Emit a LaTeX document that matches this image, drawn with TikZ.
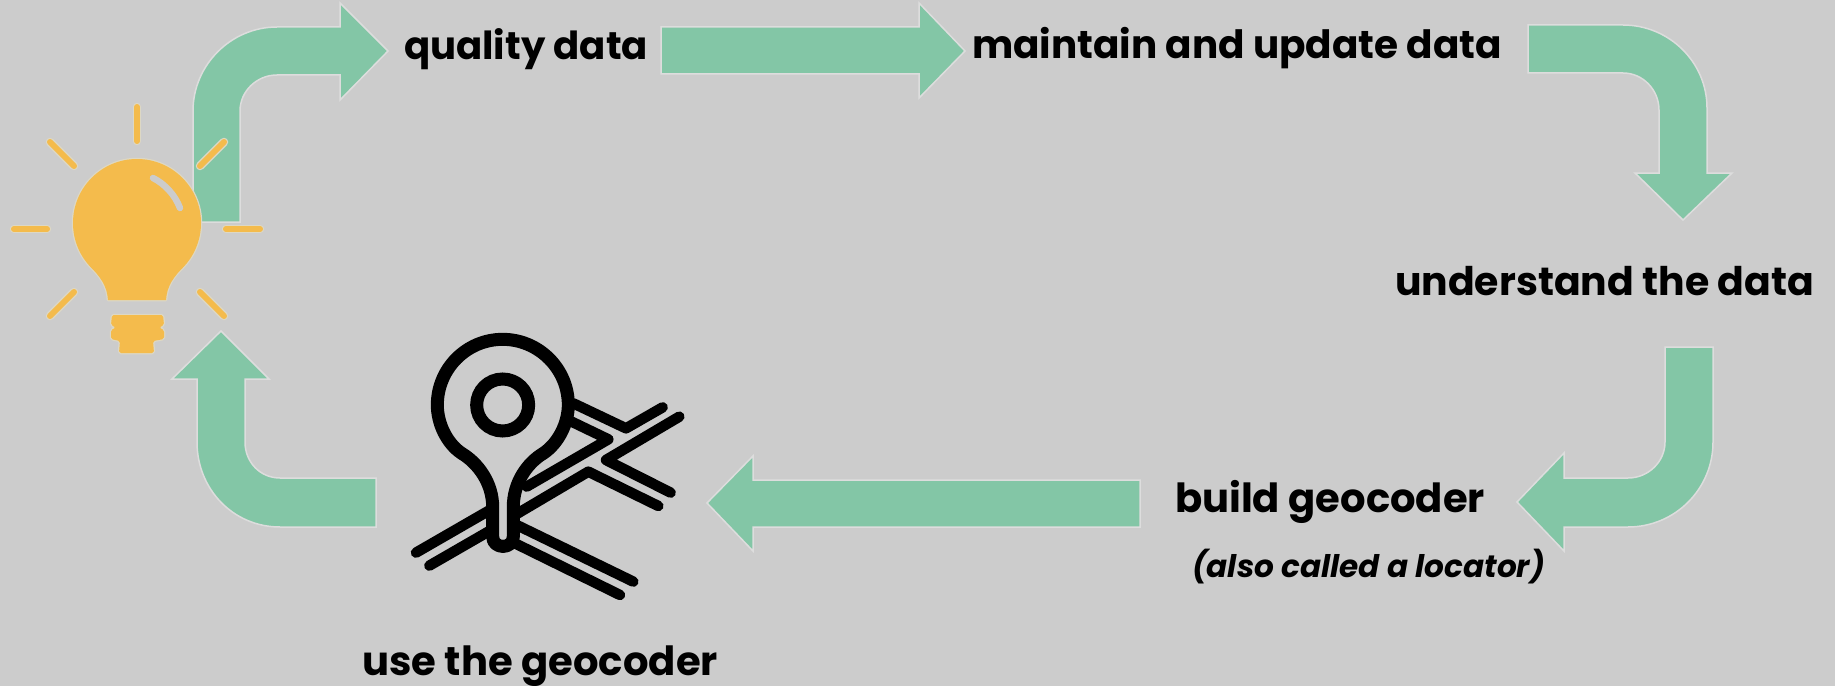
\documentclass[tikz,border=0pt]{standalone}
\usepackage{fontspec}
\usepackage{graphicx}
\setmainfont{Poppins}
\definecolor{bgc}{HTML}{CCCCCC}
\definecolor{greenc}{HTML}{83C6A6}
\definecolor{bulbc}{HTML}{F4BB4C}
\definecolor{haloc}{HTML}{DDD8C4}
\definecolor{edgec}{HTML}{DDDDDD}
\tikzset{
  bigarrow/.style={fill=greenc,draw=edgec,line width=0.03cm,line join=miter},
  lbl/.style={anchor=base west,inner sep=0pt,outer sep=0pt,text=black,font=\bfseries},
  road/.style={draw=black,line width=0.21cm,line cap=round,line join=round},
  pinline/.style={draw=black,line width=0.26cm,line join=round},
  rayhalo/.style={draw=haloc,line width=0.17cm,line cap=round},
  ray/.style={draw=bulbc,line width=0.12cm,line cap=round},
}
\newcommand{\fitw}[2]{\resizebox{\dimexpr0.02cm*#1\relax}{!}{#2}}
\newcommand{\screwbase}{(112,315) -- (163,315) -- (164,325) -- (159,327.5) -- (164,330) -- (164,339) -- (153,341) -- (154,353) -- (119,353) -- (120,341) -- (111,339) -- (111,330) -- (116,327.5) -- (111,325) -- cycle}
\begin{document}
\begin{tikzpicture}[x=0.02cm,y=-0.02cm]
\useasboundingbox (0,0) rectangle (1835,686);
\fill[bgc] (0,0) rectangle (1835,686);

% arrow 1: bulb to quality data
\path[bigarrow] (193,222) -- (193,111) .. controls (193,65) and (231,27) .. (277,27)
  -- (340,27) -- (340,3) -- (388,51) -- (340,100) -- (340,75) -- (277,75)
  .. controls (257,75) and (240,91) .. (240,111) -- (240,222) -- cycle;
% arrow 2
\path[bigarrow] (661,27) -- (919,27) -- (919,3) -- (965,51) -- (919,98) -- (919,74) -- (661,74) -- cycle;
% arrow 3
\path[bigarrow] (1528,25) -- (1623,25) .. controls (1669,25) and (1707,62) .. (1707,108)
  -- (1707,173) -- (1732,173) -- (1683,220) -- (1635,173) -- (1659,173) -- (1659,110)
  .. controls (1659,90) and (1643,73) .. (1623,73) -- (1528,73) -- cycle;
% arrow 4
\path[bigarrow] (1665,347) -- (1713,347) -- (1713,442) .. controls (1713,489) and (1675,527) .. (1628,527)
  -- (1564,527) -- (1564,551) -- (1517,502) -- (1564,453) -- (1564,478) -- (1628,478)
  .. controls (1648,478) and (1665,462) .. (1665,442) -- cycle;
% arrow 5
\path[bigarrow] (1140,480) -- (753,480) -- (753,456) -- (707,503) -- (753,551) -- (753,527) -- (1140,527) -- cycle;
% arrow 6
\path[bigarrow] (376,478) -- (280,478) .. controls (260,478) and (245,462) .. (245,442)
  -- (245,379) -- (269,379) -- (221,331) -- (172,379) -- (197,379) -- (197,442)
  .. controls (197,489) and (233,527) .. (280,527) -- (376,527) -- cycle;

% bulb rays
\foreach \a/\b/\c/\d in {137/107/137/141, 50/142/74/166, 224/142/200/166, 14/229/47/229, 226/229/260/229, 74/292/50/316, 200/292/224/316}{
  \draw[rayhalo] (\a,\b) -- (\c,\d);
  \draw[ray] (\a,\b) -- (\c,\d);
}
% bulb body halo
\draw[haloc,line width=0.05cm] (137,223) circle[radius=64];
\draw[haloc,line width=0.05cm,line join=round] (92,268) .. controls (100,277) and (107,285) .. (108,300) -- (166,300) .. controls (167,285) and (174,277) .. (182,268);
\draw[haloc,line width=0.05cm,line join=round,rounded corners=1] \screwbase;
% bulb body
\fill[bulbc] (137,223) circle[radius=64];
\fill[bulbc] (90,266) .. controls (100,277) and (107,285) .. (108,300) -- (166,300) .. controls (167,285) and (174,277) .. (184,266) -- cycle;
\fill[bulbc,rounded corners=1] \screwbase;
% highlight
\draw[draw=bgc,line width=0.13cm,line cap=round] (153,178) .. controls (165,184) and (175,195) .. (180,208);

% map pin
\begin{scope}[shift={(380,310)},x=0.00667cm,y=-0.00667cm]
  \draw[road] (108,728) -- (330,600);
  \draw[road] (148,767) -- (330,662);
  \draw[road] (405,615) -- (625,485) -- (835,588);
  \draw[road] (575,335) -- (685,388) -- (440,530);
  \draw[road] (580,280) -- (738,355) -- (848,292);
  \draw[road] (898,320) -- (678,450) -- (872,548);
  \draw[road] (410,645) -- (760,815);
  \draw[road] (405,700) -- (720,855);
  \path[pinline,fill=bgc] (172,285) .. controls (172,176) and (260,88) .. (368,88)
    .. controls (476,88) and (565,176) .. (565,285)
    .. controls (565,340) and (535,400) .. (490,430)
    .. controls (440,460) and (400,520) .. (400,590)
    -- (400,680) .. controls (400,719) and (338,719) .. (338,680) -- (338,590)
    .. controls (338,520) and (295,460) .. (245,430)
    .. controls (200,400) and (172,340) .. (172,285) -- cycle;
  \draw[draw=black,line width=0.26cm] (368,285) circle[radius=78];
\end{scope}

% labels
\node[lbl] (quality) at (404,59) {\fitw{244}{quality data}};
\node[lbl] (maintain) at (972,59) {\fitw{530}{maintain and update data}};
\node[lbl] (understand) at (1395,295) {\fitw{419}{understand the data}};
\node[lbl] (build) at (1175,512) {\fitw{310}{build geocoder}};
\node[lbl] (locator) at (1192,577) {\fitw{353}{\itshape (also called a locator)}};
\node[lbl] (use) at (362,675) {\fitw{356}{use the geocoder}};
\end{tikzpicture}
\end{document}
